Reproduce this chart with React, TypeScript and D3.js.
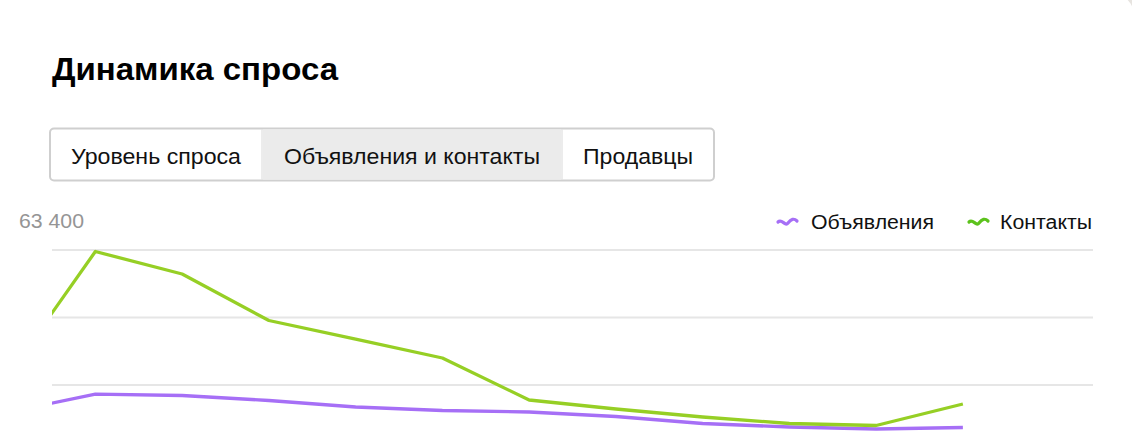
import React from "react";
import * as d3 from "d3";

const listings = [12650, 18300, 17850, 16280, 14250, 13150, 12680, 11270, 9080, 7980, 7360, 7830];
const contacts = [24420, 62930, 55890, 41330, 35530, 29590, 16440, 13620, 11120, 9080, 8450, 15190];
const yTicks = [0, 21133, 42267, 63400];
const tabs = ["Уровень спроса", "Объявления и контакты", "Продавцы"];
const activeTab = 1;
const seriesNames = ["Объявления", "Контакты"];

const W = 1132;
const H = 435;
const FONT = "'Liberation Sans', Arial, Helvetica, sans-serif";
const PURPLE = "#a66ff6";
const GREEN = "#96cf25";
const GREEN_LEGEND = "#5cc21c";

export default function App() {
  const left = 52;
  const right = 1093;
  const x = d3.scaleLinear().domain([0.5, 12.5]).range([left, right]);
  const y = d3.scaleLinear().domain([0, 63400]).range([452.5, 250]);
  const line = d3
    .line<number>()
    .x((_, i) => x(i))
    .y((d) => y(d));

  const tabX = [50, 262, 562, 714];
  const tabTextW = [170, 256, 110];
  const wave = (x0: number, yc: number) =>
    `M${x0},${yc - 1} C${x0 + 4},${yc - 5} ${x0 + 7},${yc + 4} ${x0 + 10},${yc} S${x0 + 16},${yc - 5} ${x0 + 19},${yc - 2}`;

  return (
    <div style={{ position: "absolute", left: 0, top: 0, width: W, height: H, overflow: "hidden" }}>
      <svg width={W} height={H} style={{ display: "block", fontFamily: FONT }}>
        <defs>
          <clipPath id="plot">
            <rect x={left} y={200} width={right - left} height={300} />
          </clipPath>
        </defs>
        <rect x={0} y={0} width={W} height={H} fill="#e7e4e0" />
        <rect x={-30} y={-4} width={1163} height={520} rx={16} fill="#ffffff" />

        <text x={52} y={80} fontSize={32} fontWeight={700} fill="#000" textLength={286} lengthAdjust="spacingAndGlyphs">
          Динамика спроса
        </text>

        {/* tabs */}
        <rect x={tabX[0]} y={128.5} width={tabX[3] - tabX[0]} height={52} rx={4} fill="#fff" stroke="#cfcfcf" strokeWidth={2} />
        <rect x={tabX[activeTab] + 1} y={129.5} width={tabX[activeTab + 1] - tabX[activeTab] - 2} height={50} fill="#ebebeb" />
        {[tabX[1], tabX[2]].map((tx) => (
          <line key={tx} x1={tx} x2={tx} y1={129.5} y2={179.5} stroke="#d9d9d9" strokeWidth={1} />
        ))}
        {tabs.map((t, i) => (
          <text
            key={t}
            x={(tabX[i] + tabX[i + 1]) / 2 - tabTextW[i] / 2}
            y={164}
            fontSize={21.5}
            fill="#111"
            textLength={tabTextW[i]}
            lengthAdjust="spacingAndGlyphs"
          >
            {t}
          </text>
        ))}

        {/* y label */}
        <text x={19} y={228} fontSize={20} fill="#959595" textLength={65} lengthAdjust="spacingAndGlyphs">
          {d3.format(",")(yTicks[yTicks.length - 1]).replace(/,/g, " ")}
        </text>

        {/* grid */}
        {yTicks.map((t) => (
          <line key={t} x1={left} x2={right} y1={y(t)} y2={y(t)} stroke="#e6e6e6" strokeWidth={2} />
        ))}

        {/* legend */}
        <path d={wave(778, 223)} fill="none" stroke={PURPLE} strokeWidth={3.2} strokeLinecap="round" />
        <text x={811} y={229} fontSize={20} fill="#111" textLength={123} lengthAdjust="spacingAndGlyphs">{seriesNames[0]}</text>
        <path d={wave(969, 223)} fill="none" stroke={GREEN_LEGEND} strokeWidth={3.2} strokeLinecap="round" />
        <text x={1000} y={229} fontSize={20} fill="#111" textLength={92} lengthAdjust="spacingAndGlyphs">{seriesNames[1]}</text>

        {/* lines */}
        <g clipPath="url(#plot)">
          <path d={line(listings) || ""} fill="none" stroke={PURPLE} strokeWidth={3.3} strokeLinejoin="round" />
          <path d={line(contacts) || ""} fill="none" stroke={GREEN} strokeWidth={3.3} strokeLinejoin="round" />
        </g>
      </svg>
    </div>
  );
}
